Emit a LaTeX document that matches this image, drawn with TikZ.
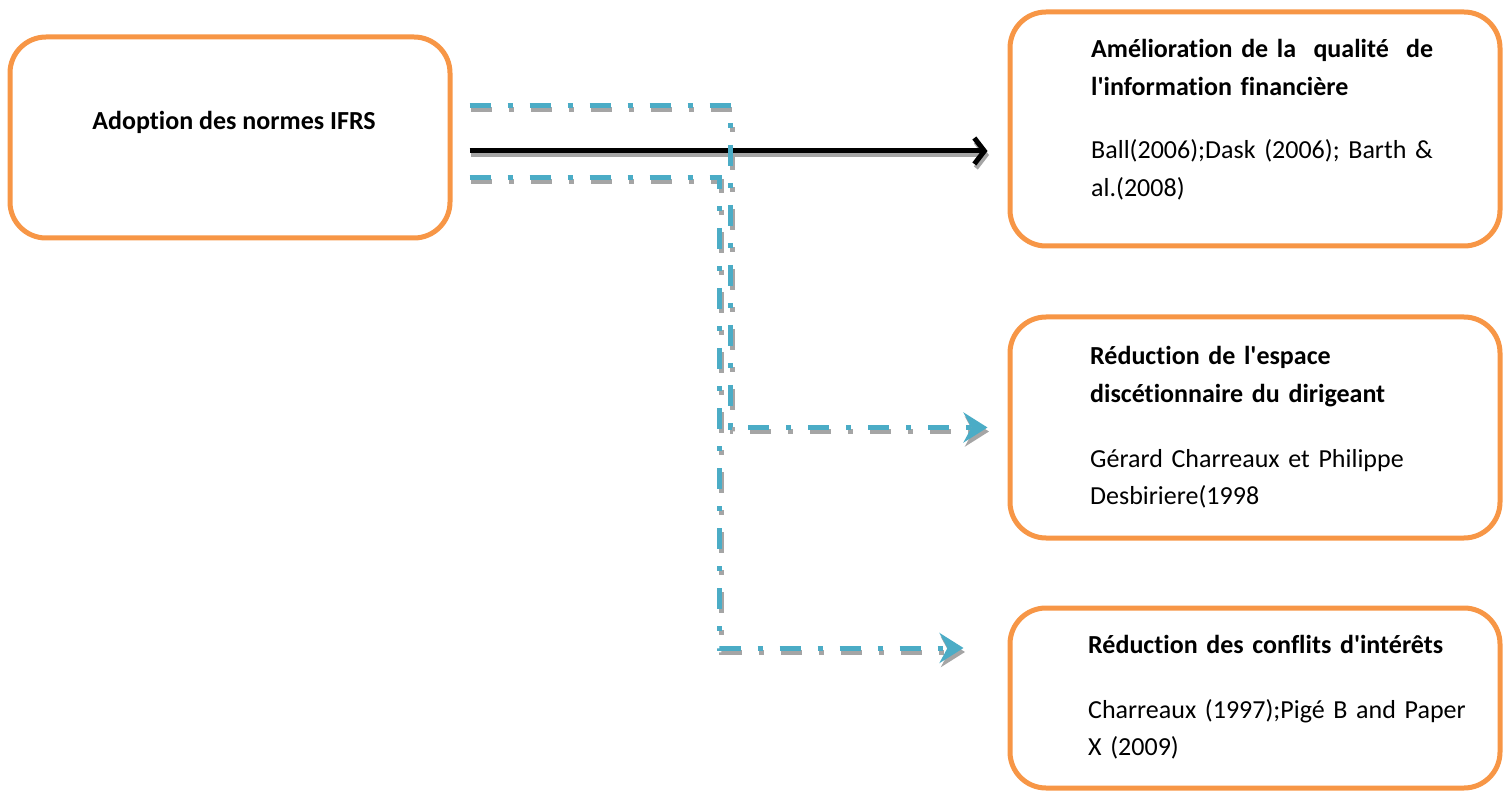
\documentclass[tikz,border=0pt]{standalone}
\usepackage{fontspec}
\setmainfont{Carlito}[Ligatures={NoCommon}]
\usetikzlibrary{arrows.meta,calc}
\definecolor{boxorange}{HTML}{F79646}
\definecolor{linkblue}{HTML}{4BACC6}
\definecolor{shadowgray}{HTML}{A5A5A5}
\newcommand\apos{\textquotesingle}
\tikzset{
  box/.style={draw=boxorange, line width=5pt, rounded corners=36pt, fill=white,
    minimum width=490pt, minimum height=220pt, inner sep=0pt},
  headtext/.style={anchor=base west, inner sep=0pt, align=left, text width=420pt,
    font=\fontsize{26}{37.5}\selectfont\bfseries},
  reftext/.style={anchor=base west, inner sep=0pt, align=left, text width=420pt,
    font=\fontsize{26}{37.5}\selectfont},
  mainlink/.style={line width=5pt, -{Straight Barb[length=10pt, width=26pt, line width=5pt]}},
  sidelink/.style={line width=5pt, dash pattern=on 21pt off 17pt on 5pt off 17pt,
    -{Stealth[length=24pt, width=30pt, inset=8pt]}}
}
% connectors, drawn once in the shadow colour and once in their own colours
\newcommand\drawlinks[2]{%
  \draw[mainlink, draw=#1] (s1) -- (t1);
  \draw[sidelink, draw=#2] (s0) -- ++(261,0) |- (t2);
  \draw[sidelink, draw=#2] (s2) -- ++(250,0) |- (t3);
}
\begin{document}
\begin{tikzpicture}[x=1pt, y=-1pt]
\path[use as bounding box] (0,0) rectangle (1507,791);

% boxes
\node[box, minimum width=440pt, minimum height=201pt] (A) at (230,137.5) {};
\node[box, minimum height=234pt] (B) at (1255,129) {};
\node[box, minimum height=221pt] (C) at (1255,427.5) {};
\node[box, minimum height=180pt] (D) at (1255,698) {};

% texts
\node[anchor=base, inner sep=0pt, font=\fontsize{26}{37.5}\selectfont\bfseries]
  (tA) at (234,130) {Adoption des normes IFRS};
\node[headtext] (hB) at (1091,58) {Amélioration de la\ \ qualité\ \ de\\l\apos information financière};
\node[reftext]  (rB) at (1091,159) {Ball(2006);Dask (2006); Barth \&\\al.(2008)};
\node[headtext] (hC) at (1090,365) {Réduction de l\apos espace\\discétionnaire du dirigeant};
\node[reftext]  (rC) at (1090,467) {Gérard Charreaux et Philippe\\Desbiriere(1998};
\node[headtext] (hD) at (1088,653) {Réduction des conflits d\apos intérêts};
\node[reftext]  (rD) at (1088,718) {Charreaux (1997);Pigé B and Paper\\X (2009)};

% connector end points
\coordinate (s0) at ($(A.east)+(17,-31.5)$);
\coordinate (s1) at ($(A.east)+(17,13.5)$);
\coordinate (s2) at ($(A.east)+(17,40.5)$);
\coordinate (t1) at ($(B.west |- s1)+(-20,0)$);
\coordinate (t2) at ($(C.west)+(-20,0)$);
\coordinate (t3) at ($(D.west)+(-44,-50)$);

\begin{scope}[transform canvas={shift={(1.5pt,-4pt)}}]
  \drawlinks{shadowgray}{shadowgray}
\end{scope}
\drawlinks{black}{linkblue}
\end{tikzpicture}
\end{document}
